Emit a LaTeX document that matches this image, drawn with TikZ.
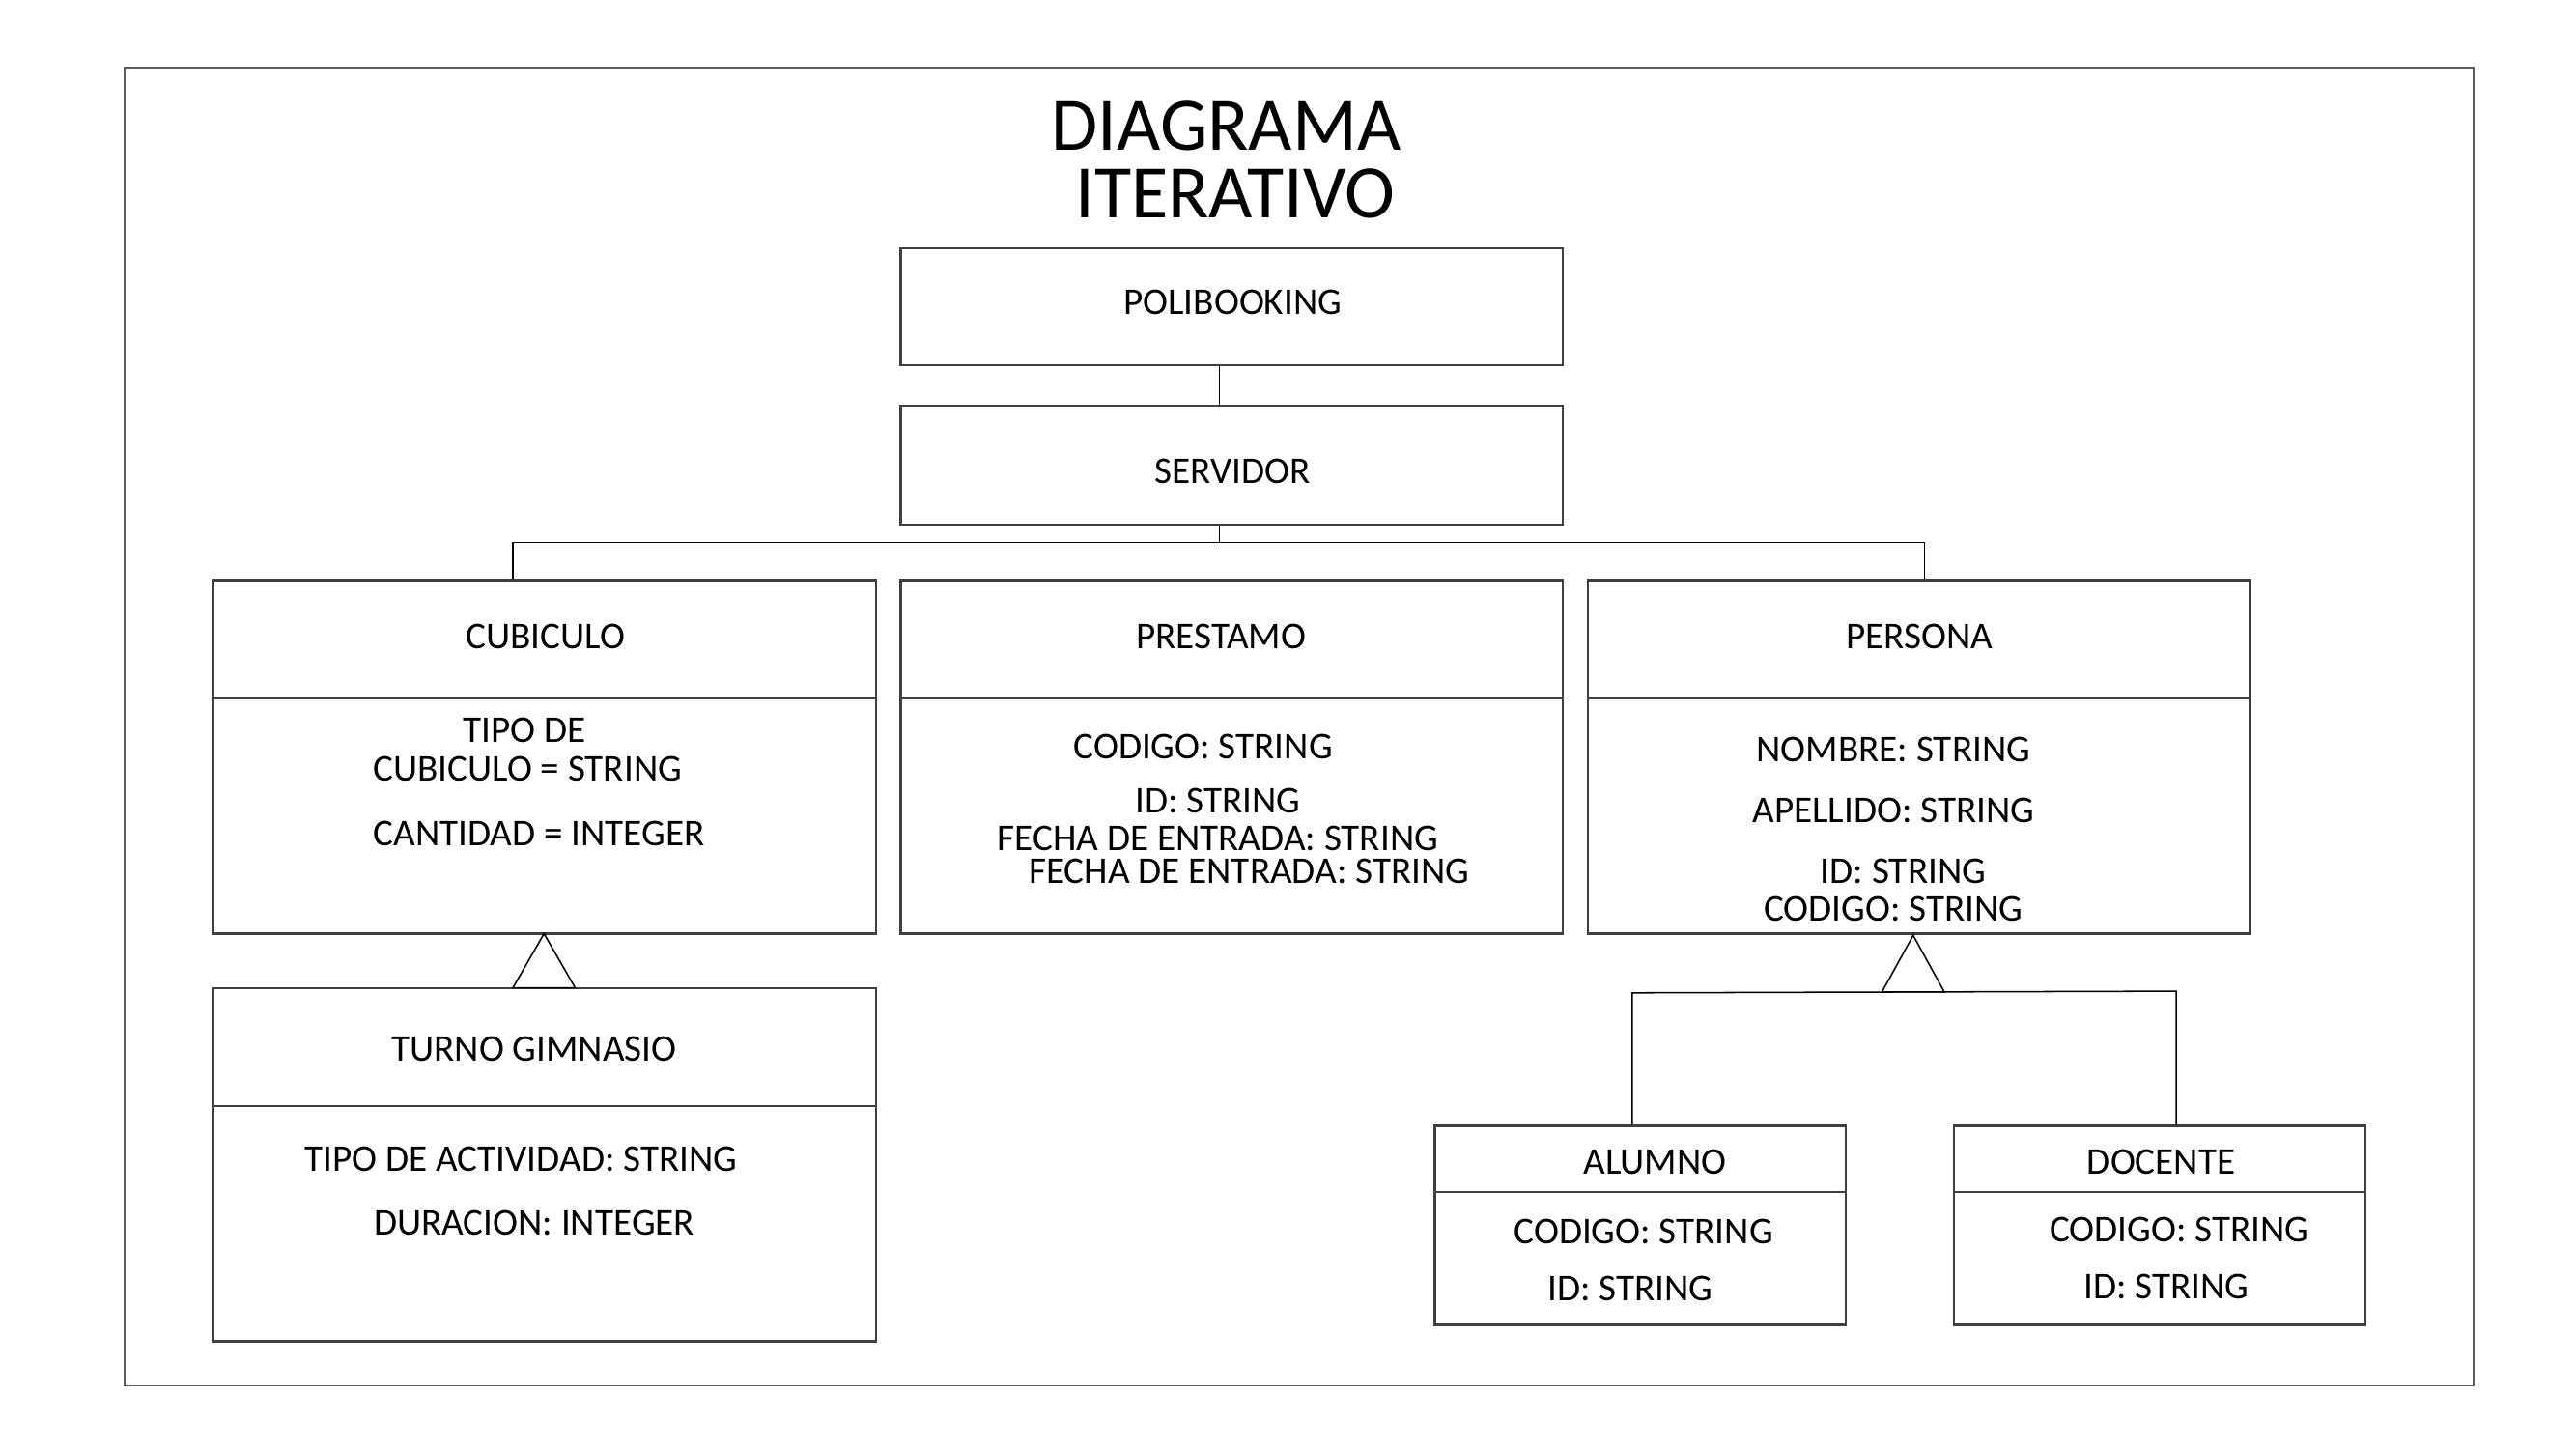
\documentclass[tikz,border=0pt]{standalone}
\usepackage{fontspec}
\setmainfont{Carlito}
\usetikzlibrary{fit}
\definecolor{boxc}{HTML}{404040}
\definecolor{framec}{HTML}{5A5A5A}
\begin{document}
\begin{tikzpicture}[x=0.5pt,y=-0.5pt,
  box/.style={draw=boxc, line width=0.7pt, inner sep=0pt},
  txt/.style={font=\fontsize{11.5}{13}\selectfont, inner sep=0pt, text=black},
  ttl/.style={font=\fontsize{23}{20.5}\selectfont, inner sep=0pt, text=black, align=center},
  conn/.style={draw=black, line width=0.45pt}]
\useasboundingbox (0,0) rectangle (1567.3,881.5);
\node[box, draw=framec, line width=0.5pt, fit={(76,41)(1505,843)}] (frame) {};
% title
\node[ttl] (title) at (746,97) {DIAGRAMA\\\hspace*{0.24em}ITERATIVO};
% POLIBOOKING / SERVIDOR
\node[box, fit={(548,151)(951,222)}] (poli) {};
\node[txt] (polit) at (750,184) {POLIBOOKING};
\node[box, fit={(548,247)(951,319)}] (serv) {};
\node[txt] (servt) at (750,287) {SERVIDOR};
% CUBICULO
\node[box, fit={(130,353)(533,425)}] (cubH) {};
\node[box, fit={(130,425)(533,568)}] (cubB) {};
\node[txt] (cubt) at (332,387) {CUBICULO};
\node[txt] (cuba1) at (319,444) {TIPO DE};
\node[txt] (cuba2) at (321,468) {CUBICULO = STRING};
\node[txt] (cuba3) at (328,507) {CANTIDAD = INTEGER};
% PRESTAMO
\node[box, fit={(548,353)(951,425)}] (preH) {};
\node[box, fit={(548,425)(951,568)}] (preB) {};
\node[txt] (pret) at (743,387) {PRESTAMO};
\node[txt] (prea1) at (732,454) {CODIGO: STRING};
\node[txt] (prea2) at (741,487) {ID: STRING};
\node[txt] (prea3) at (741,510) {FECHA DE ENTRADA: STRING};
\node[txt] (prea4) at (760,530) {FECHA DE ENTRADA: STRING};
% PERSONA
\node[box, fit={(966,353)(1369,425)}] (perH) {};
\node[box, fit={(966,425)(1369,568)}] (perB) {};
\node[txt] (pert) at (1168,387) {PERSONA};
\node[txt] (pera1) at (1152,456) {NOMBRE: STRING};
\node[txt] (pera2) at (1152,493) {APELLIDO: STRING};
\node[txt] (pera3) at (1158,530) {ID: STRING};
\node[txt] (pera4) at (1152,553) {CODIGO: STRING};
% TURNO GIMNASIO
\node[box, fit={(130,601)(533,673)}] (turH) {};
\node[box, fit={(130,673)(533,816)}] (turB) {};
\node[txt] (turt) at (325,638) {TURNO GIMNASIO};
\node[txt] (tura1) at (317,705) {TIPO DE ACTIVIDAD: STRING};
\node[txt] (tura2) at (325,744) {DURACION: INTEGER};
% ALUMNO
\node[box, fit={(873,685)(1123,725)}] (aluH) {};
\node[box, fit={(873,725)(1123,806)}] (aluB) {};
\node[txt] (alut) at (1007,707) {ALUMNO};
\node[txt] (alua1) at (1000,749) {CODIGO: STRING};
\node[txt] (alua2) at (992,784) {ID: STRING};
% DOCENTE
\node[box, fit={(1189,685)(1439,725)}] (docH) {};
\node[box, fit={(1189,725)(1439,806)}] (docB) {};
\node[txt] (doct) at (1315,707) {DOCENTE};
\node[txt] (doca1) at (1326,748) {CODIGO: STRING};
\node[txt] (doca2) at (1318,783) {ID: STRING};
% connectors
\coordinate (j1) at (742,330);
\coordinate (c1) at (312,330);
\coordinate (c2) at (1171,330);
\draw[conn] (poli.south -| j1) -- (serv.north -| j1);
\draw[conn] (serv.south -| j1) -- (j1);
\draw[conn] (cubH.north -| c1) -- (c1) -- (c2) -- (perH.north -| c2);
% generalization CUBICULO <- TURNO
\coordinate (g1) at (331,568);
\draw[conn, fill=white] (g1) -- (312,601) -- (350,601) -- cycle;
% generalization PERSONA <- ALUMNO / DOCENTE
\coordinate (g2) at (1164,569);
\draw[conn, fill=white] (g2) -- (1145,603.5) -- (1183,603.5) -- cycle;
\coordinate (a1) at (993,604);
\coordinate (d1) at (1324,603);
\draw[conn] (aluH.north -| a1) -- (a1) -- (d1) -- (docH.north -| d1);
\end{tikzpicture}
\end{document}
